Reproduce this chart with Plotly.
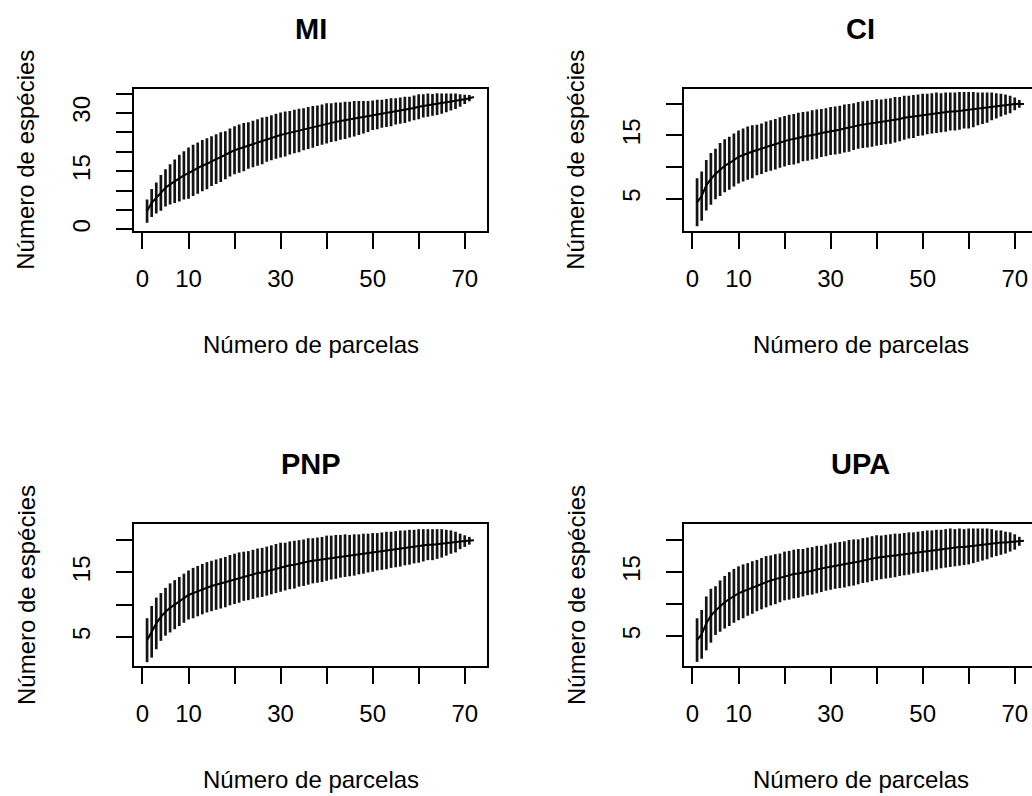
import plotly.graph_objects as go

# Species accumulation: mean richness and standard deviation per number of plots
parcelas = list(range(1, 73))

mi_riqueza = [
    4.7, 6.8, 8.1, 9.4, 10.7, 11.6, 12.4, 13.2, 13.9, 14.5,
    15.2, 15.8, 16.4, 16.9, 17.6, 18.1, 18.6, 19.1, 19.8, 20.4,
    20.8, 21.2, 21.6, 22.0, 22.4, 22.8, 23.2, 23.6, 24.0, 24.3,
    24.6, 24.9, 25.2, 25.5, 25.8, 26.1, 26.4, 26.7, 27.0, 27.3,
    27.5, 27.7, 27.9, 28.1, 28.3, 28.5, 28.7, 28.9, 29.1, 29.4,
    29.6, 29.8, 30.0, 30.2, 30.4, 30.6, 30.8, 31.0, 31.3, 31.6,
    31.8, 32.0, 32.1, 32.3, 32.4, 32.6, 32.8, 33.0, 33.2, 33.5,
    33.8, 34.1,
]
mi_dp = [
    1.5, 1.8, 2.0, 2.3, 2.4, 2.6, 2.8, 3.0, 3.1, 3.3,
    3.3, 3.3, 3.3, 3.3, 3.2, 3.2, 3.2, 3.1, 3.1, 3.1,
    3.1, 3.1, 3.0, 3.0, 3.0, 3.0, 2.9, 2.9, 2.9, 2.9,
    2.9, 2.8, 2.8, 2.8, 2.7, 2.7, 2.7, 2.6, 2.6, 2.6,
    2.5, 2.5, 2.4, 2.4, 2.3, 2.3, 2.2, 2.1, 2.0, 1.9,
    1.9, 1.8, 1.8, 1.8, 1.7, 1.7, 1.7, 1.6, 1.6, 1.6,
    1.5, 1.5, 1.4, 1.4, 1.3, 1.2, 1.1, 1.0, 0.8, 0.6,
    0.4, 0.0,
]

ci_riqueza = [
    4.4, 5.4, 7.1, 8.1, 8.9, 9.6, 10.2, 10.6, 11.1, 11.6,
    11.9, 12.2, 12.4, 12.7, 12.9, 13.2, 13.4, 13.6, 13.9, 14.1,
    14.3, 14.4, 14.6, 14.8, 14.9, 15.1, 15.2, 15.4, 15.5, 15.7,
    15.8, 15.9, 16.1, 16.2, 16.4, 16.6, 16.7, 16.8, 16.9, 17.05,
    17.1, 17.2, 17.3, 17.5, 17.6, 17.8, 17.9, 18.0, 18.2, 18.3,
    18.4, 18.5, 18.6, 18.6, 18.7, 18.8, 18.8, 18.9, 19.0, 19.0,
    19.1, 19.2, 19.3, 19.4, 19.6, 19.7, 19.8, 19.9, 19.9, 20.0,
    20.0, 20.0,
]
ci_dp = [
    1.9, 1.95, 2.0, 2.05, 2.0, 2.1, 2.1, 2.1, 2.1, 2.1,
    2.1, 2.1, 2.1, 2.0, 2.0, 2.0, 2.0, 2.0, 2.0, 2.0,
    2.0, 2.0, 2.0, 1.95, 1.95, 1.95, 1.95, 1.9, 1.9, 1.9,
    1.9, 1.9, 1.9, 1.9, 1.85, 1.85, 1.85, 1.85, 1.85, 1.85,
    1.8, 1.8, 1.8, 1.8, 1.75, 1.75, 1.7, 1.7, 1.65, 1.65,
    1.6, 1.6, 1.6, 1.55, 1.55, 1.5, 1.5, 1.5, 1.45, 1.45,
    1.4, 1.3, 1.25, 1.2, 1.1, 1.0, 0.9, 0.8, 0.7, 0.5,
    0.3, 0.0,
]

pnp_riqueza = [
    4.5, 5.8, 7.1, 8.1, 8.9, 9.5, 10.0, 10.5, 11.0, 11.5,
    11.8, 12.1, 12.4, 12.7, 12.9, 13.1, 13.3, 13.5, 13.8, 14.0,
    14.2, 14.4, 14.5, 14.7, 14.9, 15.0, 15.2, 15.4, 15.6, 15.8,
    15.9, 16.1, 16.2, 16.4, 16.5, 16.7, 16.8, 16.9, 17.0, 17.2,
    17.3, 17.4, 17.5, 17.6, 17.6, 17.7, 17.8, 17.9, 18.0, 18.1,
    18.2, 18.3, 18.4, 18.5, 18.6, 18.7, 18.8, 18.9, 19.0, 19.1,
    19.2, 19.3, 19.3, 19.4, 19.5, 19.6, 19.7, 19.7, 19.8, 19.85,
    19.9, 20.0,
]
pnp_dp = [
    1.7, 2.0, 2.0, 1.85, 1.85, 1.9, 1.9, 1.9, 1.9, 1.9,
    1.95, 1.95, 1.95, 1.95, 1.95, 1.95, 1.95, 1.95, 1.95, 1.95,
    1.95, 1.9, 1.9, 1.9, 1.9, 1.9, 1.9, 1.9, 1.9, 1.9,
    1.85, 1.85, 1.85, 1.8, 1.8, 1.8, 1.75, 1.75, 1.75, 1.75,
    1.7, 1.7, 1.65, 1.65, 1.6, 1.6, 1.55, 1.55, 1.5, 1.5,
    1.45, 1.45, 1.45, 1.4, 1.4, 1.4, 1.35, 1.35, 1.3, 1.3,
    1.25, 1.2, 1.2, 1.15, 1.1, 1.0, 0.9, 0.8, 0.6, 0.45,
    0.3, 0.0,
]

upa_riqueza = [
    4.4, 5.3, 7.0, 8.2, 9.0, 9.7, 10.3, 10.8, 11.3, 11.7,
    12.0, 12.3, 12.6, 12.9, 13.2, 13.5, 13.7, 13.9, 14.1, 14.4,
    14.5, 14.7, 14.8, 14.9, 15.1, 15.2, 15.4, 15.5, 15.7, 15.85,
    16.0, 16.1, 16.2, 16.4, 16.5, 16.6, 16.8, 16.9, 17.1, 17.25,
    17.3, 17.4, 17.5, 17.6, 17.7, 17.8, 17.9, 18.0, 18.1, 18.2,
    18.3, 18.4, 18.5, 18.6, 18.7, 18.8, 18.8, 18.9, 18.9, 19.0,
    19.1, 19.2, 19.3, 19.4, 19.5, 19.5, 19.6, 19.6, 19.7, 19.7,
    19.8, 19.9,
]
upa_dp = [
    1.7, 1.9, 2.1, 2.1, 1.9, 2.0, 2.05, 2.1, 2.1, 2.1,
    2.1, 2.05, 2.05, 2.0, 2.0, 2.0, 1.95, 1.95, 1.9, 1.9,
    1.9, 1.9, 1.9, 1.85, 1.85, 1.85, 1.85, 1.8, 1.8, 1.8,
    1.8, 1.8, 1.8, 1.8, 1.8, 1.75, 1.75, 1.75, 1.75, 1.75,
    1.7, 1.7, 1.7, 1.7, 1.65, 1.65, 1.65, 1.6, 1.6, 1.6,
    1.6, 1.55, 1.55, 1.5, 1.5, 1.5, 1.45, 1.45, 1.4, 1.4,
    1.35, 1.3, 1.25, 1.2, 1.1, 1.0, 0.95, 0.85, 0.75, 0.6,
    0.35, 0.0,
]

titulos = ["MI", "CI", "PNP", "UPA"]
riquezas = [mi_riqueza, ci_riqueza, pnp_riqueza, upa_riqueza]
desvios = [mi_dp, ci_dp, pnp_dp, upa_dp]

x_ticks = [0, 10, 20, 30, 40, 50, 60, 70]
x_tick_text = ["0", "10", "", "30", "", "50", "", "70"]
mi_y_ticks = [0, 5, 10, 15, 20, 25, 30, 35]
mi_y_tick_text = ["0", "", "", "15", "", "", "30", ""]
y_ticks = [5, 10, 15, 20]
y_tick_text = ["5", "", "15", ""]

rotulo_x = "Número de parcelas"
rotulo_y = "Número de espécies"

# ---- page geometry (pixels) ----
W, H = 1032, 796
FONT = "Liberation Sans, Arial, sans-serif"
px_per_unit = 353 / 76.68          # horizontal scale shared by all panels

# frame of each panel: left, right, top, bottom
frames = [
    (134, 487, 88.5, 231),
    (684, 1032, 88.5, 231),
    (134, 487, 524, 666),
    (684, 1032, 524, 666),
]
y_ranges = [(-0.43, 36.3), (-0.14, 22.44), (0.5, 22.5), (0.36, 22.5)]

fig = go.Figure()
layout = dict(
    width=W, height=H,
    margin=dict(l=0, r=0, t=0, b=0),
    paper_bgcolor="white", plot_bgcolor="white",
    showlegend=False,
    font=dict(family=FONT, size=24, color="black"),
)
annotations = []

for i in range(4):
    n = "" if i == 0 else str(i + 1)
    left, right, top, bottom = frames[i]
    x0 = -1.84
    x1 = x0 + (right - left) / px_per_unit

    fig.add_trace(go.Scatter(
        x=parcelas, y=riquezas[i], mode="lines",
        line=dict(color="black", width=2),
        error_y=dict(type="data", symmetric=True,
                     array=[2 * s for s in desvios[i]],
                     thickness=2.7, width=0, color="#141414"),
        xaxis="x" + n, yaxis="y" + n, hoverinfo="skip",
    ))

    axis_common = dict(
        showline=True, linecolor="black", linewidth=2,
        ticks="outside", ticklen=16, tickwidth=2, tickcolor="black",
        showgrid=False, zeroline=False,
        tickfont=dict(family=FONT, size=24, color="black"),
    )
    layout["xaxis" + n] = dict(
        axis_common,
        domain=[left / W, right / W], range=[x0, x1],
        anchor="y" + n, mirror=True,
        tickvals=x_ticks, ticktext=x_tick_text,
        ticklabelstandoff=9,
    )
    yt, ytt = (mi_y_ticks, mi_y_tick_text) if i == 0 else (y_ticks, y_tick_text)
    layout["yaxis" + n] = dict(
        axis_common,
        domain=[1 - bottom / H, 1 - top / H], range=list(y_ranges[i]),
        anchor="x" + n, mirror=(i % 2 == 0),
        tickvals=yt, ticktext=ytt, tickangle=-90,
        ticklabelstandoff=16,
    )

    cx = (left + (left + 353)) / 2
    cy = (top + bottom) / 2
    annotations.append(dict(
        text="<b>" + titulos[i] + "</b>", x=cx / W, y=1 - (top - 60) / H,
        xref="paper", yref="paper", showarrow=False,
        xanchor="center", yanchor="middle",
        font=dict(family=FONT, size=29, color="black"),
    ))
    annotations.append(dict(
        text=rotulo_x, x=cx / W, y=1 - (bottom + 113) / H,
        xref="paper", yref="paper", showarrow=False,
        xanchor="center", yanchor="middle",
        font=dict(family=FONT, size=24, color="black"),
    ))
    annotations.append(dict(
        text=rotulo_y, x=(left - 108) / W, y=1 - cy / H,
        xref="paper", yref="paper", showarrow=False, textangle=-90,
        xanchor="center", yanchor="middle",
        font=dict(family=FONT, size=24, color="black"),
    ))

layout["annotations"] = annotations
fig.update_layout(**layout)
fig.write_html("out.html")
